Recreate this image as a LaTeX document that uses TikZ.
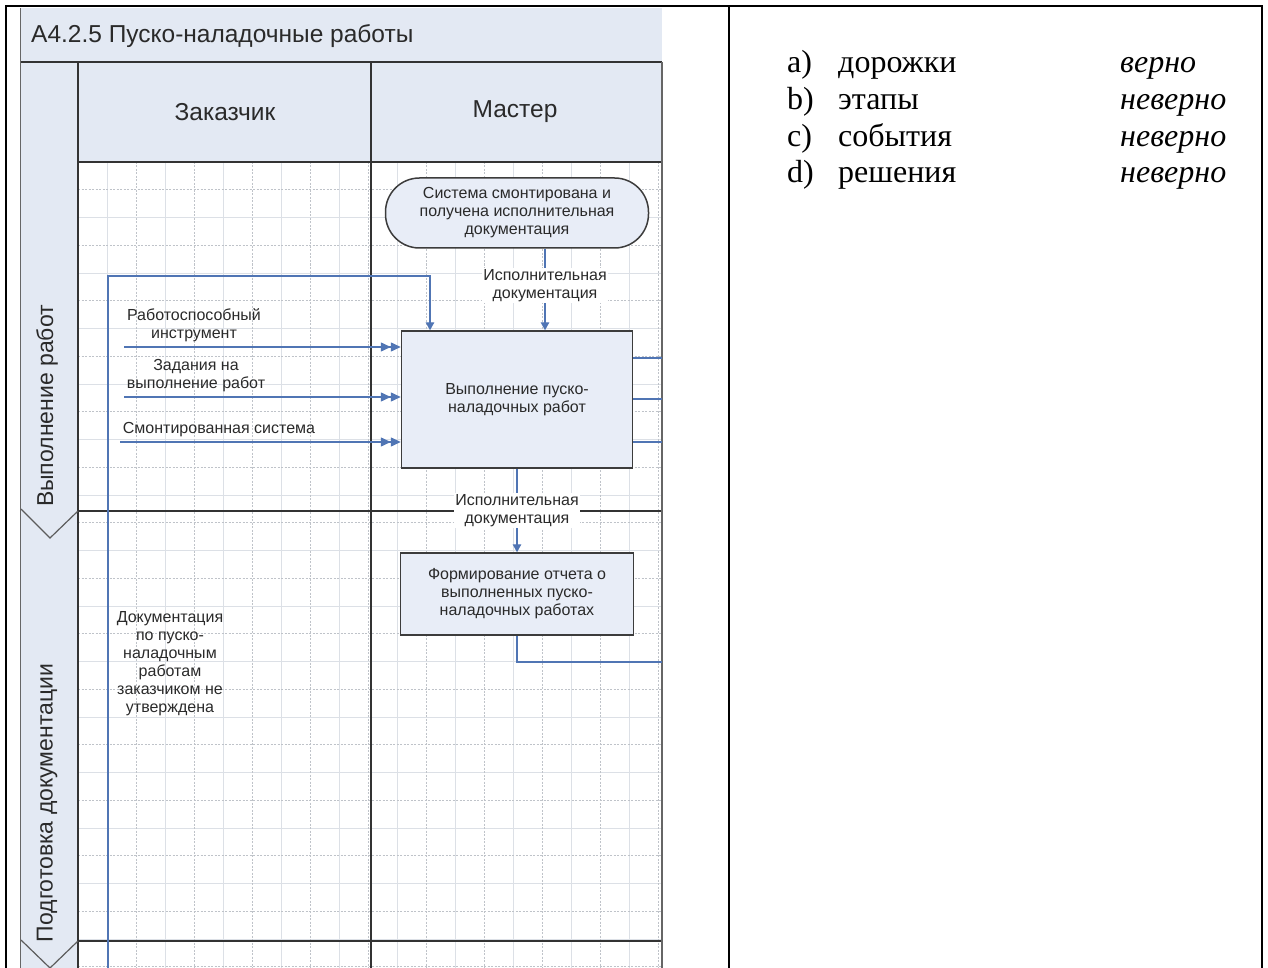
\documentclass[tikz,border=0pt]{standalone}
\usepackage{fontspec}
\setmainfont{Liberation Serif}
\newfontfamily\dia{Liberation Sans}
\usetikzlibrary{arrows.meta}
\definecolor{paneblue}{HTML}{E3E9F3}
\definecolor{boxfill}{HTML}{E8EDF7}
\definecolor{boxborder}{HTML}{3C3C3C}
\definecolor{flowblue}{HTML}{5075B4}
\definecolor{lanegray}{HTML}{333333}
\definecolor{gridminor}{HTML}{DCE0E6}
\definecolor{gridmajor}{HTML}{BFC3C9}
\definecolor{txtgray}{HTML}{2A2A2A}
\begin{document}
\begin{tikzpicture}[x=1pt,y=-1pt,
  lane/.style={draw=lanegray, line width=1.9pt},
  chev/.style={draw=lanegray!80, line width=1.2pt},
  framel/.style={draw=gray!80!black, line width=1.5pt},
  tbl/.style={draw=black, line width=2.6pt},
  gmin/.style={draw=gridminor, line width=0.8pt},
  gmaj/.style={draw=gridmajor, line width=0.8pt, dash pattern=on 2pt off 1.5pt},
  flowline/.style={draw=flowblue, line width=1.4pt},
  flowarrow/.style={flowline, -{Triangle[length=8pt,width=8.5pt]}},
  inarrow/.style={flowline, -{Triangle[length=10pt,width=9pt]Triangle[length=10pt,width=9pt]}},
  procbox/.style={draw=boxborder, line width=1.5pt, fill=boxfill, font=\dia\fontsize{16}{18}\selectfont, align=center, text=txtgray, inner sep=0pt},
  stadium/.style={procbox, rounded corners=34pt, minimum width=263pt, minimum height=70pt},
  lbl/.style={font=\dia\fontsize{16}{18}\selectfont, align=center, text=txtgray, inner sep=1pt},
  hdr/.style={font=\dia\fontsize{24.5}{28}\selectfont, text=txtgray},
  phase/.style={font=\dia\fontsize{23}{26}\selectfont, text=txtgray, rotate=90},
  ans/.style={font=\fontsize{32}{37}\selectfont, anchor=base west, inner sep=0pt}
]
\useasboundingbox (0,0) rectangle (1268,968);
% grid
\begin{scope}
\clip (78,162) rectangle (662,968);
\foreach \k [evaluate=\k as \gx using 78+29*\k] in {1,3,...,19} {\draw[gmin] (\gx,162) -- (\gx,968);}
\foreach \k [evaluate=\k as \gy using 162+27.75*\k] in {2,4,...,28} {\draw[gmin] (78,\gy) -- (662,\gy);}
\foreach \k [evaluate=\k as \gx using 78+29*\k] in {2,4,...,20} {\draw[gmaj] (\gx,162) -- (\gx,968);}
\foreach \k [evaluate=\k as \gy using 162+27.75*\k] in {1,3,...,29} {\draw[gmaj] (78,\gy) -- (662,\gy);}
\end{scope}
% panes
\fill[paneblue] (20,8) rectangle (662,162);
\fill[paneblue] (20,162) rectangle (78,968);
% lanes
\draw[lane] (20,62) -- (662,62);
\draw[lane] (78,162) -- (662,162);
\draw[lane] (78,62) -- (78,968);
\draw[lane] (371,62) -- (371,968);
\draw[lane] (78,511) -- (662,511);
\draw[lane] (78,941) -- (662,941);
\draw[chev] (21,509) -- (50,538) -- (78,511);
\draw[chev] (21,940) -- (50,968) -- (78,941);
\draw[framel] (20.5,8) -- (20.5,968);
\draw[framel] (662,62) -- (662,968);
% texts of the frame
\node[anchor=west, font=\dia\fontsize{24.5}{27}\selectfont, text=txtgray, inner sep=0pt] (title) at (31,36) {A4.2.5 Пуско-наладочные работы};
\node[hdr] (zak) at (225,112) {Заказчик};
\node[hdr] (mas) at (515,112) {Мастер};
\node[phase] (ph1) at (47,406) {Выполнение работ};
\node[phase] (ph2) at (47,803) {Подготовка документации};
% nodes
\node[stadium] (stad) at (517,213) {Система смонтирована и\\получена исполнительная\\документация};
\node[procbox, minimum width=231pt, minimum height=137pt] (box1) at (517,399.5) {Выполнение пуско-\\наладочных работ};
\node[procbox, minimum width=233pt, minimum height=82pt] (box2) at (517,594) {Формирование отчета о\\выполненных пуско-\\наладочных работах};
% connectors
\coordinate (c1) at (545,250);
\draw[flowarrow] (stad.south -| c1) -- node[lbl, fill=white, pos=0.45] (lab1) {Исполнительная\\документация} (box1.north -| c1);
\draw[flowarrow] (box1.south) -- node[lbl, fill=white, pos=0.5] (lab2) {Исполнительная\\документация} (box2.north);
\coordinate (o1) at (662,358);
\coordinate (o2) at (662,399);
\coordinate (o3) at (662,442);
\coordinate (o4) at (662,662);
\draw[flowline] (box1.east |- o1) -- (o1);
\draw[flowline] (box1.east |- o2) -- (o2);
\draw[flowline] (box1.east |- o3) -- (o3);
\draw[flowline] (box2.south) |- (o4);
\coordinate (i1) at (124,347);
\coordinate (i2) at (124,397);
\coordinate (i3) at (120,442);
\draw[inarrow] (i1) -- (box1.west |- i1);
\draw[inarrow] (i2) -- (box1.west |- i2);
\draw[inarrow] (i3) -- (box1.west |- i3);
\node[lbl] (l1) at (194,325) {Работоспособный\\инструмент};
\node[lbl] (l2) at (196,376) {Задания на\\выполнение работ};
\node[lbl] (l3) at (219,430) {Смонтированная система};
\coordinate (fb0) at (108,968);
\coordinate (fb1) at (430,276);
\draw[flowarrow] (fb0) |- (fb1) -- (box1.north -| fb1);
\node[lbl] (l4) at (170,664) {Документация\\по пуско-\\наладочным\\работам\\заказчиком не\\утверждена};
% table
\draw[tbl] (6,968) -- (6,6) -- (1262,6) -- (1262,968);
\draw[tbl] (729,6) -- (729,968);
% answers
\node[ans] (ka) at (787,73) {a)};
\node[ans] (wa) at (838,73) {дорожки};
\node[ans] (va) at (1120,73) {\itshape верно};
\node[ans] (kb) at (787,110) {b)};
\node[ans] (wb) at (838,110) {этапы};
\node[ans] (vb) at (1120,110) {\itshape неверно};
\node[ans] (kc) at (787,147) {c)};
\node[ans] (wc) at (838,147) {события};
\node[ans] (vc) at (1120,147) {\itshape неверно};
\node[ans] (kd) at (787,183) {d)};
\node[ans] (wd) at (838,183) {решения};
\node[ans] (vd) at (1120,183) {\itshape неверно};
\end{tikzpicture}
\end{document}
